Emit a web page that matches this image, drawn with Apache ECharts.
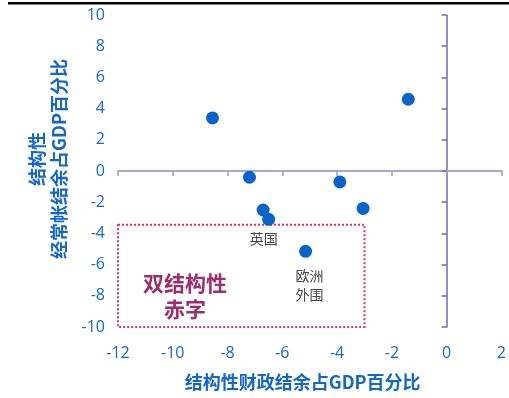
<!DOCTYPE html>
<html>
<head>
<meta charset="utf-8">
<script src="https://cdn.jsdelivr.net/npm/echarts@6/dist/echarts.min.js"></script>
<style>
  html, body { margin: 0; padding: 0; background: #fff; }
  #chart { width: 509px; height: 398px; }
</style>
</head>
<body>
<div id="chart"></div>
<script>
// Structural fiscal balance (x) vs structural current account balance (y), % of GDP
const fiscalBalance = [-8.55, -7.2, -3.9, -1.4, -6.7, -6.5, -3.05, -5.15];
const currentAccount = [3.4, -0.4, -0.7, 4.6, -2.5, -3.1, -2.4, -5.15];
const pointNames = ['', '', '', '', '', '英国', '', '欧洲\n外围'];

// "twin deficit" zone corners: [fiscal, current account]
const deficitZone = [[-12, -3.45], [-3, -10.85]];

const xTicks = { min: -12, max: 2, interval: 2 };
const yTicks = { min: -10, max: 10, interval: 2 };

const blue = '#1467c9';
const tickFont = '"Open Sans", sans-serif';
const cjkFont = '"Noto Sans CJK SC", sans-serif';

const points = fiscalBalance.map((x, i) => {
  const item = { value: [x, currentAccount[i]] };
  if (pointNames[i] === '英国') {
    item.label = { show: true, formatter: pointNames[i], position: 'bottom', distance: 4, offset: [-5, 2] };
  } else if (pointNames[i]) {
    item.label = { show: true, formatter: pointNames[i], position: 'bottom', distance: 8, offset: [4, 0], lineHeight: 19 };
  }
  return item;
});

const chart = echarts.init(document.getElementById('chart'), null, { renderer: 'canvas' });
chart.setOption({
  animation: false,
  grid: { left: 118, right: 7, top: 15, bottom: 71 },
  graphic: [
    { type: 'rect', shape: { x: 8, y: 2, width: 501, height: 2.5 }, style: { fill: '#000' } },
    {
      type: 'text', x: 185, y: 296,
      style: {
        text: '双结构性\n赤字', fill: '#9c2f6a', font: 'bold 21px ' + cjkFont,
        align: 'center', verticalAlign: 'middle', lineHeight: 26
      }
    }
  ],
  xAxis: [
    {
      type: 'value', position: 'bottom', ...xTicks,
      axisLine: { show: false, onZero: false }, axisTick: { show: false }, splitLine: { show: false },
      axisLabel: { color: blue, fontSize: 16, fontFamily: tickFont, margin: 18 },
      name: '结构性财政结余占GDP百分比', nameLocation: 'middle', nameGap: 46,
      nameTextStyle: { color: blue, fontSize: 18, fontWeight: 'bold', fontFamily: cjkFont, padding: [0, 14, 0, 0] }
    },
    {
      type: 'value', position: 'top', ...xTicks,
      axisLine: { show: true, onZero: true, lineStyle: { color: '#a9a9cf', width: 2 } },
      axisTick: { show: true, inside: true, length: 5, lineStyle: { color: '#9a9ac6', width: 1.5 } },
      axisLabel: { show: false }, splitLine: { show: false }
    }
  ],
  yAxis: [
    {
      type: 'value', position: 'left', ...yTicks,
      axisLine: { show: false, onZero: false }, axisTick: { show: false }, splitLine: { show: false },
      axisLabel: { color: blue, fontSize: 16, fontFamily: tickFont, margin: 13, padding: [3, 0, 0, 0] },
      name: '结构性\n经常帐结余占GDP百分比', nameLocation: 'middle', nameRotate: 90, nameGap: 45,
      nameTextStyle: { color: blue, fontSize: 18, fontWeight: 'bold', fontFamily: cjkFont, lineHeight: 22, padding: [0, 0, 0, 24] }
    },
    {
      type: 'value', position: 'right', ...yTicks,
      axisLine: { show: true, onZero: true, lineStyle: { color: '#6b6bb0', width: 1.5 } },
      axisTick: { show: true, inside: true, length: 5, lineStyle: { color: '#6b6bb0', width: 1.5 } },
      axisLabel: { show: false }, splitLine: { show: false }
    }
  ],
  series: [
    {
      type: 'scatter', xAxisIndex: 0, yAxisIndex: 0, clip: false,
      symbolSize: 13,
      itemStyle: { color: '#0a63c9', opacity: 1 },
      label: { color: '#444', fontSize: 14, fontFamily: cjkFont },
      data: points,
      markArea: {
        silent: true,
        itemStyle: { color: 'rgba(0,0,0,0)', borderColor: '#d9306c', borderWidth: 2, borderType: [2, 2] },
        data: [[{ coord: deficitZone[0] }, { coord: deficitZone[1] }]]
      }
    }
  ]
});
</script>
</body>
</html>
